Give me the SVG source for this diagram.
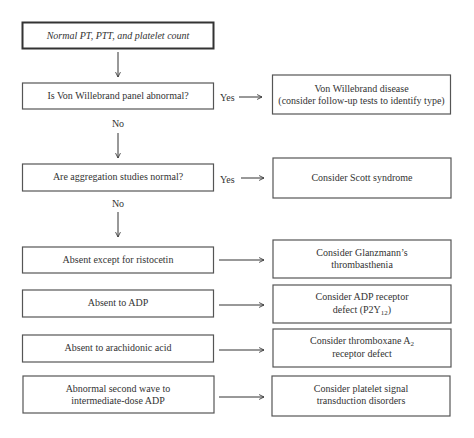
<svg xmlns="http://www.w3.org/2000/svg" width="474" height="438" viewBox="0 0 474 438">
<style>
.box{fill:#fff;stroke:#555;stroke-width:1.2}
.bold{fill:#fff;stroke:#333;stroke-width:2}
text{font-family:"Liberation Serif",serif;font-size:10px;fill:#333;text-anchor:middle}
.it{font-style:italic}
.lbl{text-anchor:start}
.c line{stroke:#333;stroke-width:1}
</style>
<defs>
<marker id="ah" viewBox="0 0 10 10" refX="9" refY="5" markerWidth="7" markerHeight="7" orient="auto" markerUnits="userSpaceOnUse">
<polyline points="2,1.5 9,5 2,8.5" fill="none" stroke="#333" stroke-width="1.2"/>
</marker>
</defs>
<rect width="474" height="438" fill="#fff"/>
<g id="n1"><rect class="bold" x="22.5" y="22.5" width="191" height="26"/><text class="it" x="118" y="38.5">Normal PT, PTT, and platelet count</text></g>
<g id="n2"><rect class="box" x="22.5" y="83" width="191" height="26"/><text x="118" y="99">Is Von Willebrand panel abnormal?</text></g>
<g id="r1"><rect class="box" x="272.5" y="75" width="178" height="39"/><text x="361.5" y="92">Von Willebrand disease</text><text x="361.5" y="104">(consider follow-up tests to identify type)</text></g>
<g id="n3"><rect class="box" x="22.5" y="164" width="191" height="27"/><text x="118" y="180">Are aggregation studies normal?</text></g>
<g id="r2"><rect class="box" x="273" y="158" width="178" height="40"/><text x="362" y="181">Consider Scott syndrome</text></g>
<g id="n4"><rect class="box" x="22.5" y="247" width="191" height="26"/><text x="118" y="263">Absent except for ristocetin</text></g>
<g id="r3"><rect class="box" x="273" y="240" width="178" height="38"/><text x="362" y="256">Consider Glanzmann’s</text><text x="362" y="268">thrombasthenia</text></g>
<g id="n5"><rect class="box" x="22.5" y="290" width="191" height="27"/><text x="118" y="306">Absent to ADP</text></g>
<g id="r4"><rect class="box" x="273" y="285" width="178" height="38"/><text x="362" y="300">Consider ADP receptor</text><text x="362" y="313">defect (P2Y<tspan font-size="7" dy="2">12</tspan><tspan dy="-2">)</tspan></text></g>
<g id="n6"><rect class="box" x="22.5" y="335" width="191" height="27"/><text x="118" y="351">Absent to arachidonic acid</text></g>
<g id="r5"><rect class="box" x="273" y="329" width="178" height="38"/><text x="362" y="344">Consider thromboxane A<tspan font-size="7" dy="2">2</tspan></text><text x="362" y="357">receptor defect</text></g>
<g id="n7"><rect class="box" x="23" y="376" width="191" height="37"/><text x="118" y="392">Abnormal second wave to</text><text x="118" y="404">intermediate-dose ADP</text></g>
<g id="r6"><rect class="box" x="272" y="376" width="178" height="40"/><text x="361" y="392">Consider platelet signal</text><text x="361" y="404">transduction disorders</text></g>
<g id="connectors" class="c">
<line x1="118" y1="52" x2="118" y2="77" marker-end="url(#ah)"/>
<line x1="118" y1="133" x2="118" y2="158" marker-end="url(#ah)"/>
<line x1="118" y1="212" x2="118" y2="237" marker-end="url(#ah)"/>
<line x1="239" y1="97" x2="262" y2="97" marker-end="url(#ah)"/>
<line x1="241" y1="178" x2="264" y2="178" marker-end="url(#ah)"/>
<line x1="219" y1="260" x2="264" y2="260" marker-end="url(#ah)"/>
<line x1="219" y1="305" x2="264" y2="305" marker-end="url(#ah)"/>
<line x1="219" y1="350" x2="264" y2="350" marker-end="url(#ah)"/>
<line x1="219" y1="397" x2="264" y2="397" marker-end="url(#ah)"/>
</g>
<g id="labels">
<text class="lbl" x="220" y="101">Yes</text>
<text x="118" y="127">No</text>
<text class="lbl" x="220" y="183">Yes</text>
<text x="118" y="207">No</text>
</g>
</svg>
